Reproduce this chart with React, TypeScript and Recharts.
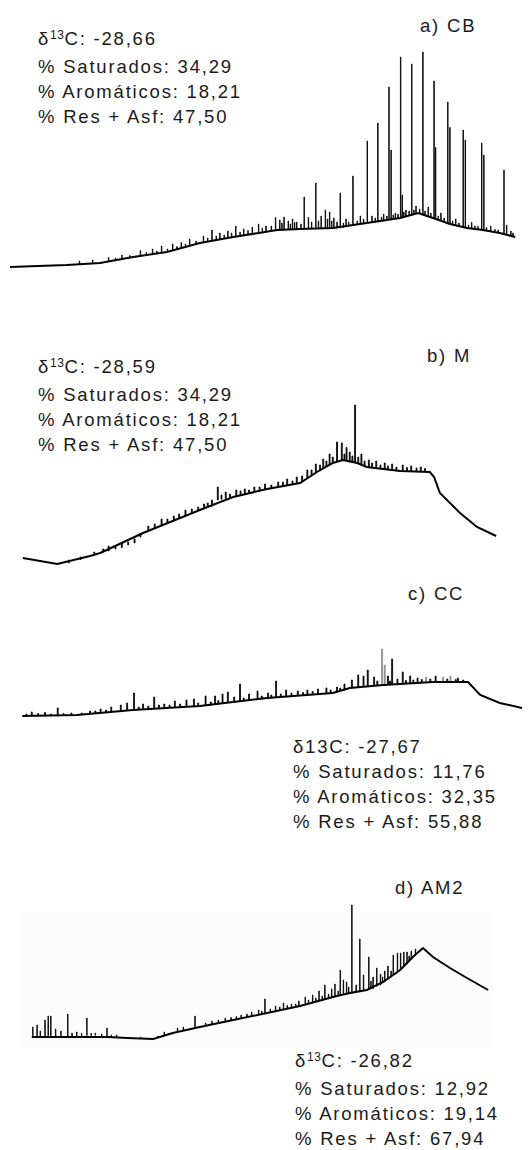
import { ComposedChart, Line, Bar, Cell, XAxis, YAxis } from "recharts";

// retention time (0-100) vs relative signal (0-100)
const baselineA = [
	[1.9, 1.2], [12.6, 2], [18.9, 2.8], [25.1, 5.2], [31.5, 7.2], [37.7, 10.8],
	[44.0, 13.2], [52.3, 16], [56.6, 16.4], [62.8, 16.8], [69.2, 18.8], [75.5, 20.8],
	[78.9, 22.8], [81.7, 20.8], [84.9, 18.4], [88.1, 16.8], [91.1, 16], [94.3, 14.8],
	[97.2, 13.2],
];
const peaksA = [
	[15.0, 2.4, 3.6], [17.5, 3.0, 4.0], [20.5, 3.4, 5.0], [21.8, 3.9, 4.8], [23.0, 4.4, 6.0],
	[24.5, 4.9, 5.8], [26.5, 5.6, 7.8], [27.6, 6.0, 7.0], [28.8, 6.3, 8.4], [29.6, 6.6, 7.6],
	[30.5, 6.9, 9.6], [31.6, 7.3, 8.4], [32.6, 7.8, 10.4], [33.4, 8.2, 9.4], [34.2, 8.6, 11.0],
	[35.0, 9.1, 10.4], [35.8, 9.6, 12.4], [37.0, 10.4, 11.6], [38.4, 11.1, 13.6], [39.2, 11.5, 12.8],
	[40.0, 11.8, 16.0], [40.8, 12.1, 13.6], [41.5, 12.4, 14.8], [42.3, 12.7, 14.0], [43.0, 12.9, 15.6],
	[43.7, 13.1, 14.8], [44.5, 13.4, 17.6], [45.3, 13.8, 15.2], [46.0, 14.1, 16.4], [46.8, 14.4, 15.8],
	[47.6, 14.7, 17.2], [48.8, 15.1, 18.4], [49.5, 15.3, 16.8], [50.2, 15.6, 17.6], [51.2, 15.8, 17.6],
	[52.0, 16.0, 21.0], [52.8, 16.0, 20.0], [53.2, 16.1, 18.8], [53.6, 16.1, 21.2], [54.4, 16.2, 19.6],
	[54.8, 16.2, 18.4], [55.2, 16.3, 20.4], [55.6, 16.3, 19.0], [56.0, 16.4, 19.2], [56.8, 16.4, 18.4],
	[57.4, 16.4, 29.2], [58.2, 16.5, 21.0], [58.8, 16.5, 19.2], [59.6, 16.6, 34.8], [60.1, 16.6, 19.6],
	[60.6, 16.6, 21.6], [61.4, 16.7, 24.0], [61.8, 16.7, 20.4], [62.2, 16.8, 23.2], [62.6, 16.8, 19.6],
	[63.0, 16.8, 20.8], [63.6, 16.8, 19.2], [64.2, 16.8, 30.8], [64.8, 17.0, 18.8], [65.3, 17.2, 20.4],
	[65.8, 17.4, 19.2], [66.6, 17.8, 37.6], [67.4, 18.2, 19.6], [68.0, 18.5, 21.6], [68.6, 18.6, 20.4],
	[69.3, 18.8, 51.6], [70.2, 19.2, 21.6], [70.8, 19.3, 20.8], [71.3, 19.5, 58.8], [72.0, 19.7, 21.2],
	[72.4, 19.8, 22.4], [73.0, 20.0, 21.6], [73.4, 20.1, 73.2], [73.8, 20.2, 48.0], [74.2, 20.4, 22.0],
	[74.6, 20.5, 22.8], [75.1, 20.7, 22.4], [75.6, 20.8, 85.2], [75.9, 20.9, 30.0], [76.2, 21.1, 23.2],
	[76.6, 21.4, 24.0], [77.2, 21.7, 23.6], [77.7, 22.0, 82.4], [78.1, 22.3, 24.0], [78.5, 22.5, 25.6],
	[79.2, 22.7, 24.4], [79.8, 22.4, 87.2], [80.2, 22.0, 23.6], [80.8, 21.6, 25.2], [81.3, 21.1, 22.8],
	[81.9, 20.6, 75.6], [82.2, 20.4, 49.0], [82.7, 20.1, 21.6], [83.2, 19.8, 22.8], [83.8, 19.2, 20.8],
	[84.5, 18.7, 67.2], [84.9, 18.4, 57.0], [85.4, 18.2, 19.6], [86.0, 17.8, 20.4], [86.6, 17.5, 18.8],
	[87.4, 17.2, 56.0], [87.8, 17.0, 52.0], [88.4, 16.8, 18.0], [89.0, 16.7, 19.0], [89.6, 16.5, 17.6],
	[90.2, 16.2, 17.4], [90.9, 16.0, 50.8], [91.3, 15.9, 46.0], [91.8, 15.7, 17.0], [92.6, 15.4, 17.6],
	[93.4, 15.1, 16.2], [94.0, 14.9, 16.0], [95.1, 14.6, 40.0], [95.6, 14.4, 18.0], [96.4, 13.9, 15.6],
	[96.8, 13.6, 14.8],
];

const baselineB = [
	[4.3, 4.8], [10.8, 2.4], [17.0, 5.6], [18.9, 6.8], [27.0, 14.8], [37.7, 24], [44.0, 29.2],
	[50.4, 32.4], [56.6, 34.8], [59.8, 39.2], [62.8, 42.8], [64.7, 44], [67.4, 42.8], [69.2, 41.2],
	[75.5, 39.6], [81.1, 39.2], [81.9, 37.2], [83.0, 30.8], [86.8, 22.8], [90.0, 17.2], [93.6, 13.6],
];
const peaksB = [
	[13.0, 2.8, 4.0], [15.2, 4.2, 5.2], [17.8, 6.0, 7.2], [19.5, 7.2, 8.4], [20.5, 7.6, 9.6],
	[21.8, 8.4, 9.6], [23.0, 9.0, 11.0], [24.2, 10.0, 11.2], [25.4, 10.8, 12.4], [26.5, 13.2, 14.6],
	[28.0, 15.6, 17.6], [29.2, 16.8, 18.4], [30.5, 18.0, 20.4], [31.6, 18.8, 20.4], [32.8, 19.8, 21.6],
	[33.8, 20.8, 22.4], [35.0, 21.8, 24.0], [36.2, 22.8, 24.4], [37.4, 23.8, 25.2], [38.5, 24.4, 26.4],
	[39.2, 25.0, 26.8], [40.0, 25.5, 28.0], [41.1, 28.0, 33.2], [41.8, 28.3, 30.0], [42.6, 28.6, 31.2],
	[43.4, 28.8, 30.4], [44.6, 29.4, 32.0], [45.4, 29.8, 31.6], [46.2, 30.2, 32.4], [47.0, 30.6, 32.0],
	[48.0, 31.0, 33.2], [49.0, 31.6, 33.2], [50.0, 32.2, 34.4], [51.2, 32.6, 34.0], [52.5, 33.2, 35.2],
	[53.4, 33.5, 35.2], [54.2, 33.8, 36.4], [55.2, 34.2, 35.6], [56.0, 34.5, 37.2], [57.0, 35.5, 37.6],
	[58.0, 36.6, 40.0], [58.8, 37.7, 40.0], [59.6, 38.8, 42.4], [60.4, 39.7, 42.0], [61.0, 40.6, 44.4],
	[61.6, 41.4, 43.6], [62.2, 42.0, 46.4], [62.8, 42.8, 45.2], [63.6, 43.6, 51.2], [64.5, 44.0, 50.8],
	[65.0, 44.0, 46.4], [65.4, 44.0, 49.0], [66.0, 43.6, 47.2], [66.5, 43.3, 45.6], [67.0, 43.0, 66.0],
	[67.6, 42.6, 45.2], [68.2, 42.0, 46.4], [68.8, 41.6, 43.6], [69.6, 41.0, 44.0], [70.2, 40.8, 42.8],
	[71.0, 40.6, 43.6], [71.8, 40.4, 42.0], [72.6, 40.2, 42.8], [73.2, 40.0, 41.6], [74.0, 39.8, 42.4],
	[74.8, 39.7, 41.2], [76.0, 39.6, 42.0], [76.8, 39.5, 41.0], [77.6, 39.5, 41.6], [78.6, 39.4, 40.8],
	[79.4, 39.3, 41.2], [80.2, 39.3, 40.6],
];

const baselineC = [
	[4.2, 1.6], [14.5, 2], [25.1, 4], [37.7, 5.6], [50.4, 8.8], [62.8, 10.8], [66.0, 12.8],
	[72.3, 14], [81.7, 15.2], [88.3, 15.2], [90.6, 10], [94.3, 6.8], [98.5, 4.8],
];
const peaksC = [
	[5.0, 1.6, 2.4], [6.0, 1.7, 3.2], [7.2, 1.7, 2.6], [8.5, 1.7, 3.0], [9.6, 1.7, 2.4],
	[10.9, 1.6, 4.8], [12.0, 1.8, 2.6], [13.5, 1.9, 2.8], [15.4, 2.1, 2.8], [17.0, 2.4, 3.6],
	[18.0, 2.6, 3.6], [19.0, 2.9, 4.4], [20.0, 3.1, 4.0], [21.0, 3.3, 5.2], [22.8, 3.6, 6.0],
	[24.0, 3.8, 6.8], [25.3, 4.0, 10.8], [26.2, 4.2, 5.2], [27.0, 4.3, 6.4], [28.0, 4.4, 5.6],
	[29.1, 4.6, 9.2], [30.0, 4.8, 6.0], [31.0, 4.9, 6.4], [32.0, 5.0, 6.0], [33.0, 5.1, 7.6],
	[34.0, 5.2, 6.4], [35.2, 5.3, 8.0], [36.6, 5.5, 8.4], [37.4, 5.6, 6.8], [38.8, 5.8, 9.6],
	[39.8, 6.1, 7.2], [40.6, 6.4, 9.6], [41.2, 6.6, 7.8], [42.0, 6.8, 10.4], [43.0, 7.0, 11.2],
	[44.2, 7.2, 9.2], [45.3, 7.4, 14.4], [46.0, 7.6, 8.8], [47.0, 7.9, 10.4], [48.6, 8.2, 11.6],
	[49.4, 8.5, 9.6], [50.6, 8.8, 10.8], [51.2, 8.9, 10.0], [52.1, 9.0, 15.6], [53.0, 9.2, 10.4],
	[54.0, 9.4, 12.0], [55.0, 9.6, 10.8], [56.2, 9.8, 11.6], [57.2, 10.0, 11.0], [58.0, 10.1, 12.0],
	[59.0, 10.3, 11.4], [60.0, 10.4, 12.4], [61.6, 10.6, 12.8], [62.4, 10.8, 12.0], [63.6, 11.2, 13.2],
	[64.2, 11.6, 12.8], [65.0, 12.0, 14.4], [66.4, 12.9, 16.0], [67.6, 13.2, 18.0], [68.6, 13.4, 17.6],
	[69.4, 13.6, 20.0], [70.6, 13.8, 17.2], [71.2, 13.9, 15.6], [72.1, 14.0, 28.4], [72.6, 14.0, 22.0],
	[73.2, 14.1, 17.6], [73.6, 14.2, 15.6], [74.0, 14.2, 24.4], [75.0, 14.3, 16.4], [76.0, 14.5, 19.2],
	[76.6, 14.6, 15.8], [77.4, 14.7, 17.6], [78.0, 14.8, 16.0], [78.8, 14.9, 16.8], [79.6, 15.0, 16.2],
	[80.4, 15.0, 17.2], [81.2, 15.1, 16.4], [82.2, 15.2, 17.6], [83.6, 15.2, 17.2], [84.4, 15.2, 16.4],
	[85.0, 15.2, 17.6], [86.0, 15.2, 16.2], [86.4, 15.2, 16.8], [87.4, 15.2, 16.0],
];
// peaks printed lighter in the original trace
const fadedC = [72.1, 72.6, 80.4, 83.6, 85.0];

const baselineD = [
	[6.0, 3.2], [20.4, 3.2], [24.0, 2.8], [28.9, 2.4], [32.6, 4.8], [37.7, 7.2], [44.0, 10],
	[50.4, 12.8], [56.6, 15.6], [62.8, 19.2], [66.0, 20.8], [69.2, 22], [72.3, 25.2], [75.5, 30],
	[77.9, 35.2], [79.8, 38.8], [81.7, 35.2], [84.9, 30.8], [88.1, 26.8], [92.1, 22],
];
const peaksD = [
	[6.2, 3.2, 7.2], [7.0, 3.3, 8.0], [7.6, 3.3, 5.6], [8.5, 3.4, 10.0], [9.1, 3.4, 11.6],
	[9.6, 3.4, 11.6], [10.5, 3.4, 6.4], [11.5, 3.5, 5.6], [12.8, 3.6, 12.4], [13.6, 3.6, 4.8],
	[14.5, 3.7, 5.2], [15.4, 3.7, 4.6], [16.4, 3.8, 10.8], [17.2, 3.8, 4.6], [18.0, 3.9, 4.8],
	[19.2, 3.5, 4.4], [20.2, 3.2, 6.8], [21.0, 3.1, 4.0], [22.0, 3.0, 4.0], [26.5, 2.6, 3.2],
	[29.8, 2.8, 3.6], [31.0, 3.6, 5.2], [33.5, 5.2, 6.8], [34.6, 5.8, 7.2], [36.8, 6.8, 11.6],
	[38.8, 7.8, 8.8], [40.0, 8.2, 9.6], [41.2, 8.8, 10.0], [42.5, 9.4, 10.8], [43.6, 9.8, 11.0],
	[44.6, 10.2, 11.4], [45.5, 10.6, 12.0], [46.6, 11.0, 12.4], [47.5, 11.4, 13.2], [48.8, 12.0, 14.0],
	[49.4, 12.3, 13.6], [50.0, 12.6, 18.4], [51.0, 13.0, 14.4], [52.0, 13.6, 15.6], [52.8, 13.9, 15.2],
	[53.5, 14.2, 16.8], [54.2, 14.5, 15.8], [55.0, 14.8, 16.4], [55.8, 15.1, 16.4], [56.4, 15.4, 17.6],
	[57.6, 16.0, 19.2], [58.2, 16.4, 18.0], [59.0, 16.8, 20.0], [59.6, 17.1, 18.8], [60.2, 17.4, 21.6],
	[60.8, 17.7, 19.6], [61.3, 18.0, 24.0], [62.0, 18.5, 20.4], [62.6, 18.8, 22.4], [63.2, 19.6, 24.4],
	[63.8, 19.8, 21.6], [64.2, 20.0, 30.0], [64.8, 20.2, 26.0], [65.4, 20.4, 25.2], [65.8, 20.5, 23.2],
	[66.4, 20.6, 56.0], [67.2, 21.0, 24.0], [67.9, 21.2, 42.4], [68.6, 21.6, 28.0], [69.6, 22.2, 35.2],
	[70.0, 22.4, 25.6], [70.4, 22.6, 27.2], [71.1, 23.5, 30.8], [71.8, 24.0, 28.4], [72.2, 24.8, 27.2],
	[72.6, 25.2, 29.6], [73.2, 26.4, 31.6], [73.8, 27.2, 29.6], [74.2, 28.0, 36.0], [75.0, 29.4, 36.8],
	[75.6, 30.0, 36.8], [76.2, 31.4, 37.2], [76.8, 32.4, 37.2], [77.2, 33.4, 35.6], [77.6, 34.4, 37.6],
	[78.4, 36.4, 38.4],
];

const statsA = ["-28,66", "34,29", "18,21", "47,50"];
const statsB = ["-28,59", "34,29", "18,21", "47,50"];
const statsC = ["-27,67", "11,76", "32,35", "55,88"];
const statsD = ["-26,82", "12,92", "19,14", "67,94"];

const INK = "#000";
const FONT = '"Liberation Sans", Arial, sans-serif';
const textStyle = {
	position: "absolute" as const,
	fontFamily: FONT,
	fontSize: 18.5,
	letterSpacing: 1.8,
	lineHeight: "25px",
	color: "#1a1a1a",
	whiteSpace: "nowrap" as const,
};

function Chromatogram({ top, baseline, peaks, faded = [] }) {
	const rows = [
		...baseline.map(([t, v]) => ({ t, base: v })),
		...peaks.map(([t, lo, hi]) => ({ t, peak: [lo, hi] })),
	].sort((a, b) => a.t - b.t);
	return (
		<div style={{ position: "absolute", left: 0, top, width: 530, height: 250 }}>
			<ComposedChart width={530} height={250} data={rows} margin={{ top: 0, right: 0, bottom: 0, left: 0 }}>
				<XAxis type="number" dataKey="t" domain={[0, 100]} hide />
				<YAxis type="number" domain={[0, 100]} hide />
				<Bar dataKey="peak" barSize={1.2} isAnimationActive={false}>
					{rows.map((r, i) => {
						const c = faded.includes(r.t) ? "#8a8a8a" : INK;
						return <Cell key={i} fill={c} stroke={c} strokeWidth={0.8} />;
					})}
				</Bar>
				<Line
					dataKey="base"
					type="linear"
					stroke={INK}
					strokeWidth={2}
					dot={false}
					connectNulls
					isAnimationActive={false}
				/>
			</ComposedChart>
		</div>
	);
}

function Stats({ left, top, stats, sup = true }) {
	return (
		<div style={{ ...textStyle, left, top }}>
			<div>
				δ{sup ? <span style={{ fontSize: 12, letterSpacing: 0.5, position: "relative", top: -6 }}>13</span> : "13"}C: {stats[0]}
			</div>
			<div>% Saturados: {stats[1]}</div>
			<div>% Aromáticos: {stats[2]}</div>
			<div>% Res + Asf: {stats[3]}</div>
		</div>
	);
}

export default function App() {
	return (
		<div style={{ position: "absolute", left: 0, top: 0, width: 530, height: 1150, background: "#fff", overflow: "hidden" }}>
			<div style={{ position: "absolute", left: 20, top: 912, width: 473, height: 135, background: "#fcfcfc" }} />
			<Chromatogram top={20} baseline={baselineA} peaks={peaksA} />
			<Chromatogram top={320} baseline={baselineB} peaks={peaksB} />
			<Chromatogram top={470} baseline={baselineC} peaks={peaksC} faded={fadedC} />
			<Chromatogram top={795} baseline={baselineD} peaks={peaksD} />

			<div style={{ ...textStyle, left: 420, top: 13 }}>a) CB</div>
			<div style={{ ...textStyle, left: 427, top: 343 }}>b) M</div>
			<div style={{ ...textStyle, left: 408, top: 581 }}>c) CC</div>
			<div style={{ ...textStyle, left: 395, top: 875 }}>d) AM2</div>

			<Stats left={38} top={26} stats={statsA} />
			<Stats left={38} top={354} stats={statsB} />
			<Stats left={293} top={734} stats={statsC} sup={false} />
			<Stats left={295} top={1048} stats={statsD} />
		</div>
	);
}
